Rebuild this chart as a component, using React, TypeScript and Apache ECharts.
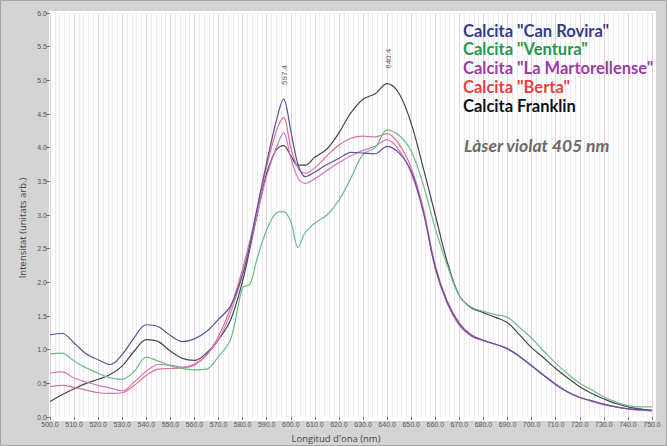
import React, { useEffect, useRef } from 'react';
import * as echarts from 'echarts';

const wavelengths = [500, 505, 510, 515, 520, 525, 530, 535, 540, 545, 550, 555, 560, 565, 570, 575, 580, 583, 586, 590, 594, 597, 600, 603, 606, 610, 615, 620, 625, 630, 635, 640, 645, 650, 655, 660, 665, 670, 675, 680, 685, 690, 695, 700, 705, 710, 715, 720, 725, 730, 735, 740, 745, 750];

const canRovira = [1.22, 1.24, 1.10, 0.94, 0.85, 0.78, 0.93, 1.18, 1.37, 1.34, 1.21, 1.12, 1.16, 1.27, 1.45, 1.65, 2.12, 2.55, 3.10, 3.78, 4.40, 4.72, 4.25, 3.75, 3.57, 3.64, 3.75, 3.84, 3.93, 3.92, 3.91, 4.02, 3.92, 3.65, 3.05, 2.22, 1.70, 1.38, 1.21, 1.14, 1.08, 1.01, 0.90, 0.76, 0.62, 0.48, 0.37, 0.29, 0.24, 0.19, 0.15, 0.12, 0.11, 0.10];

const ventura = [0.94, 0.95, 0.83, 0.73, 0.65, 0.58, 0.56, 0.68, 0.89, 0.83, 0.76, 0.72, 0.70, 0.71, 0.90, 1.15, 1.92, 1.97, 2.35, 2.78, 3.03, 3.05, 2.90, 2.52, 2.74, 2.88, 3.00, 3.22, 3.55, 3.90, 4.00, 4.26, 4.18, 3.95, 3.45, 2.80, 2.25, 1.80, 1.63, 1.57, 1.52, 1.48, 1.33, 1.17, 0.98, 0.80, 0.64, 0.50, 0.40, 0.30, 0.22, 0.17, 0.15, 0.15];

const martorellense = [0.65, 0.67, 0.58, 0.52, 0.47, 0.43, 0.39, 0.52, 0.68, 0.78, 0.77, 0.74, 0.79, 0.92, 1.15, 1.55, 2.12, 2.55, 3.00, 3.58, 4.00, 4.22, 3.85, 3.55, 3.47, 3.54, 3.66, 3.78, 3.88, 3.96, 4.02, 4.12, 3.96, 3.62, 3.05, 2.20, 1.68, 1.36, 1.20, 1.13, 1.08, 1.02, 0.90, 0.76, 0.62, 0.49, 0.37, 0.29, 0.23, 0.18, 0.15, 0.12, 0.10, 0.09];

const berta = [0.45, 0.47, 0.44, 0.40, 0.36, 0.35, 0.36, 0.47, 0.62, 0.71, 0.72, 0.73, 0.77, 0.92, 1.20, 1.62, 2.20, 2.62, 3.08, 3.72, 4.25, 4.45, 4.00, 3.70, 3.62, 3.70, 3.88, 4.04, 4.14, 4.17, 4.16, 4.21, 4.05, 3.70, 3.10, 2.25, 1.72, 1.40, 1.22, 1.14, 1.08, 1.02, 0.90, 0.76, 0.62, 0.49, 0.37, 0.29, 0.24, 0.19, 0.15, 0.12, 0.10, 0.09];

const franklin = [0.23, 0.33, 0.42, 0.50, 0.56, 0.63, 0.76, 0.98, 1.15, 1.12, 0.98, 0.87, 0.84, 0.95, 1.15, 1.44, 2.02, 2.50, 3.00, 3.62, 3.97, 4.03, 3.88, 3.74, 3.74, 3.86, 3.98, 4.22, 4.52, 4.72, 4.80, 4.95, 4.80, 4.36, 3.70, 3.00, 2.30, 1.80, 1.62, 1.55, 1.48, 1.40, 1.22, 1.03, 0.88, 0.72, 0.58, 0.45, 0.35, 0.27, 0.20, 0.15, 0.12, 0.10];

const seriesNames = ['Calcita "Can Rovira"', 'Calcita "Ventura"', 'Calcita "La Martorellense"', 'Calcita "Berta"', 'Calcita Franklin'];
const seriesValues = [canRovira, ventura, martorellense, berta, franklin];
const lineColors = ['#55559a', '#6cbf86', '#d277c8', '#e0708e', '#474747'];
const legendColors = ['#363b8a', '#1f9a4c', '#9a3ea0', '#e8423e', '#111111'];

const peakWavelengths = [597.4, 640.4];
const peakLabelLevels = [5.08, 5.32];

const laserNote = 'Làser violat 405 nm';
const yTitle = 'Intensitat (unitats arb.)';
const xTitle = "Longitud d'ona (nm)";

export default function App() {
  const ref = useRef<HTMLDivElement>(null);
  useEffect(() => {
    if (!ref.current) return;
    const chart = echarts.init(ref.current, null, { renderer: 'svg' });
    const font = 'Liberation Sans';
    const legendFont = 'Lato';
    const lineSeries = seriesValues.map((vals, i) => ({
      type: 'line',
      name: seriesNames[i],
      data: wavelengths.map((w, j) => [w, vals[j]]),
      smooth: 0.35,
      showSymbol: false,
      symbol: 'none',
      lineStyle: { color: lineColors[i], width: 1.2 },
      z: 5 - i + 2,
    }));
    const legendTexts = seriesNames.map((n, i) => ({
      type: 'text',
      left: 463,
      top: 22 + i * 18.8,
      style: { text: n, fill: legendColors[i], font: `bold 16.5px ${legendFont}` },
      z: 10,
    }));
    chart.setOption({
      animation: false,
      backgroundColor: '#d4d4d4',
      grid: { left: 50, right: 15, top: 13, bottom: 29 },
      xAxis: {
        type: 'value',
        min: 500,
        max: 750,
        interval: 10,
        axisLine: { show: false },
        axisTick: { show: true, length: 3, lineStyle: { color: '#777' } },
        axisLabel: { formatter: (v: number) => v.toFixed(1), fontSize: 7, color: '#555', margin: 4, fontFamily: font },
        splitLine: { show: true, lineStyle: { color: '#f5ccda', width: 1 } },
        minorTick: { show: false, splitNumber: 5 },
        minorSplitLine: { show: true, lineStyle: { color: '#ebebf0', width: 1 } },
      },
      yAxis: {
        type: 'value',
        min: 0,
        max: 6,
        interval: 0.5,
        axisLine: { show: false },
        axisTick: { show: true, length: 4, lineStyle: { color: '#777' } },
        axisLabel: { formatter: (v: number) => v.toFixed(1), fontSize: 7, color: '#555', margin: 3, fontFamily: font },
        splitLine: { show: false },
      },
      graphic: [
        { type: 'rect', shape: { x: 0.5, y: 0.5, width: 666, height: 445 }, style: { fill: 'none', stroke: '#a5a5a5', lineWidth: 1 }, z: -100 },
        { type: 'rect', shape: { x: 49, y: 11, width: 607, height: 410 }, style: { fill: '#ffffff' }, z: -100 },
        ...legendTexts,
        {
          type: 'text', left: 464, top: 136,
          style: { text: laserNote, fill: '#6a6a6a', font: `italic bold 17.5px ${legendFont}` }, z: 10,
        },
        {
          type: 'text', x: 22, y: 228, rotation: Math.PI / 2,
          style: { text: yTitle, fill: '#444', font: `9.5px 'Open Sans'`, textAlign: 'center', textVerticalAlign: 'middle' }, z: 10,
        },
        {
          type: 'text', x: 336, y: 438,
          style: { text: xTitle, fill: '#444', font: `9.5px 'Open Sans'`, textAlign: 'center', textVerticalAlign: 'middle' }, z: 10,
        },
      ],
      series: [
        ...lineSeries,
        {
          type: 'scatter',
          data: peakWavelengths.map((w, i) => [w, peakLabelLevels[i], w.toFixed(1)]),
          symbolSize: 0,
          silent: true,
          label: {
            show: true, position: 'inside', rotate: 90,
            formatter: (p: any) => p.value[2],
            fontSize: 8, color: '#333', fontFamily: font,
          },
        },
      ],
    });
    return () => chart.dispose();
  }, []);
  return <div ref={ref} style={{ position: 'fixed', left: 0, top: 0, width: 667, height: 446 }} />;
}
